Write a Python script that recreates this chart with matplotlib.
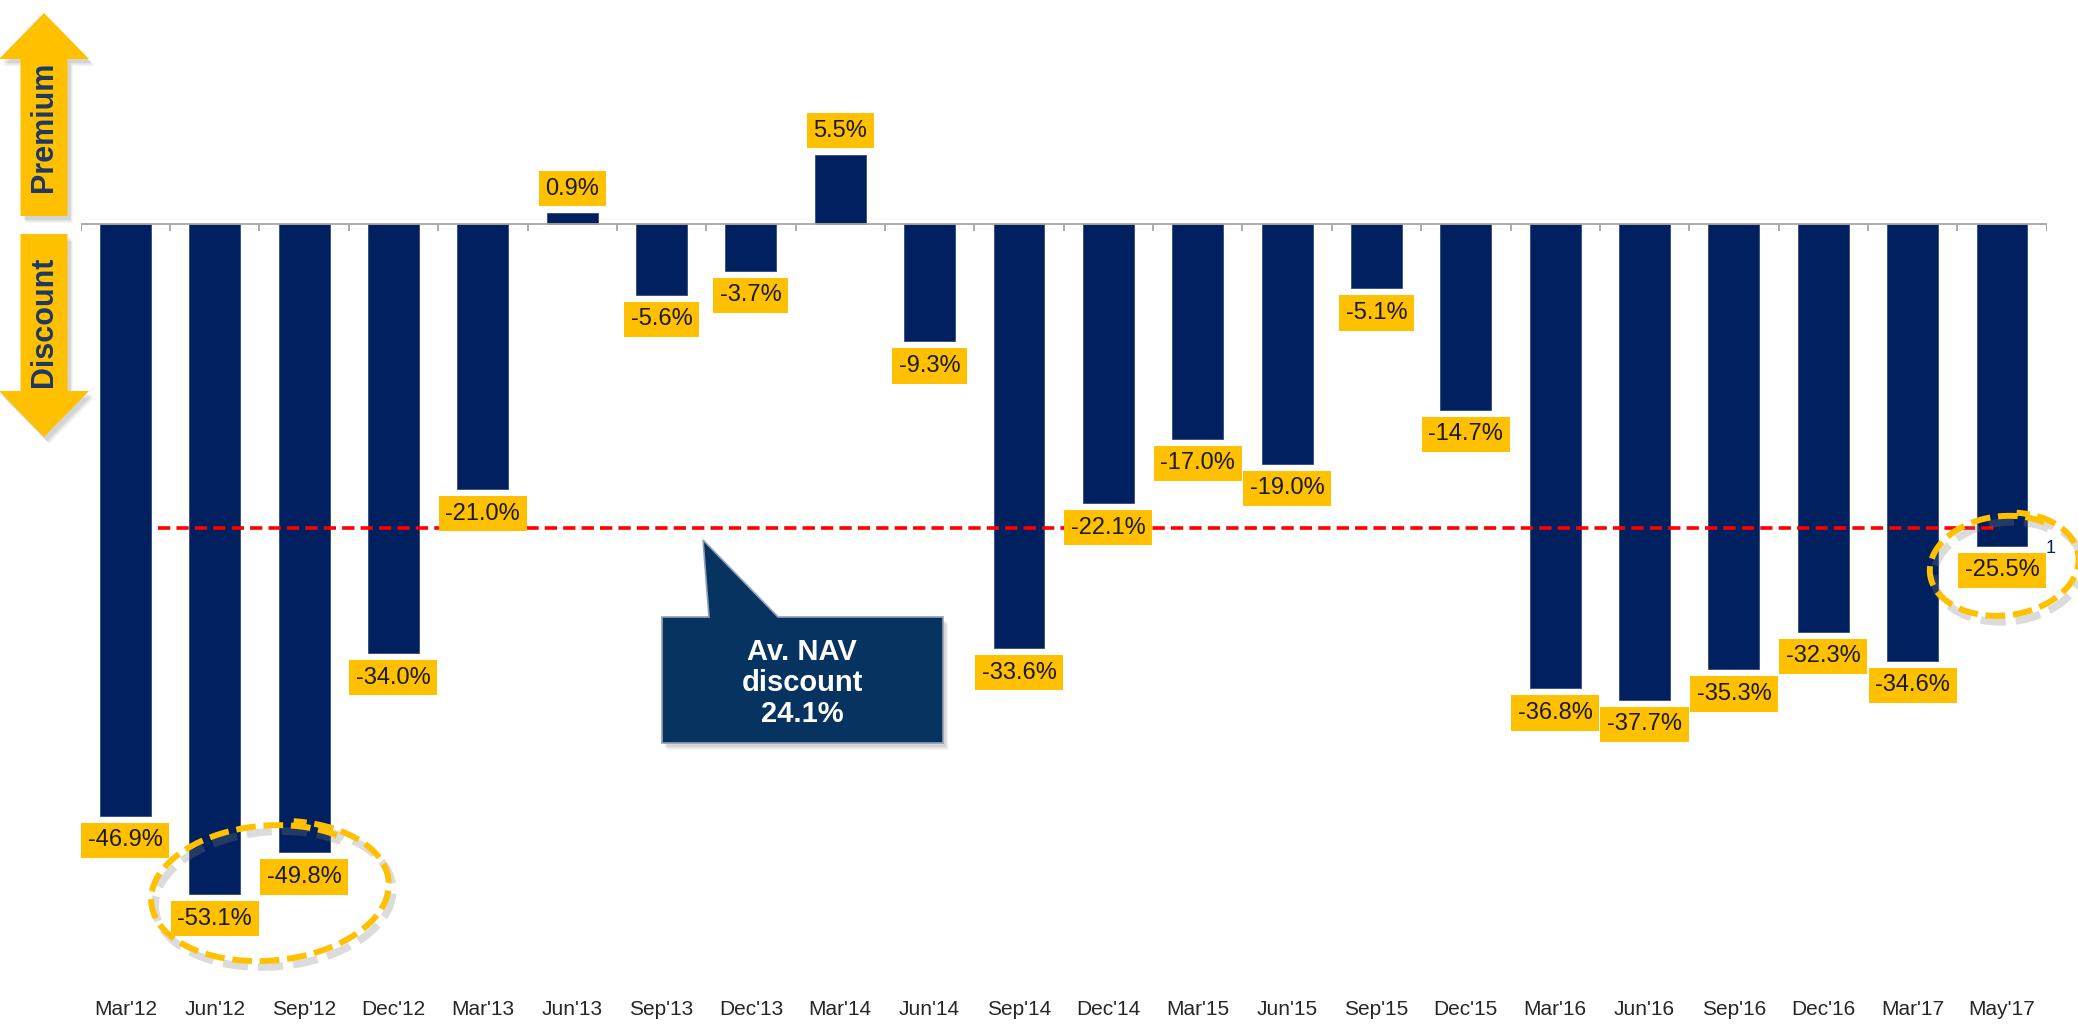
import numpy as np
import matplotlib
matplotlib.use("Agg")
import matplotlib.pyplot as plt
from matplotlib.patches import Polygon

plt.rcParams['font.family'] = ['Liberation Sans', 'DejaVu Sans']

quarters = ["Mar'12", "Jun'12", "Sep'12", "Dec'12", "Mar'13", "Jun'13", "Sep'13",
            "Dec'13", "Mar'14", "Jun'14", "Sep'14", "Dec'14", "Mar'15", "Jun'15",
            "Sep'15", "Dec'15", "Mar'16", "Jun'16", "Sep'16", "Dec'16", "Mar'17",
            "May'17"]
nav_premium = [-46.9, -53.1, -49.8, -34.0, -21.0, 0.9, -5.6, -3.7, 5.5, -9.3, -33.6,
               -22.1, -17.0, -19.0, -5.1, -14.7, -36.8, -37.7, -35.3, -32.3, -34.6,
               -25.5]
avg = np.mean(nav_premium)

NAVY = '#002060'
GOLD = '#FFC000'
W, H = 2078, 1025
PX = 12.62          # pixels per percentage point
ZERO_Y = 224        # pixel row of the zero line
AX_BOTTOM = 990

fig = plt.figure(figsize=(W / 100, H / 100), dpi=100)
ax = fig.add_axes([80.7 / W, (H - AX_BOTTOM) / H, 1966 / W, AX_BOTTOM / H])
ax.set_xlim(-0.5, len(quarters) - 0.5)
ax.set_ylim(ZERO_Y / PX - AX_BOTTOM / PX, ZERO_Y / PX)
for s in ax.spines.values():
    s.set_visible(False)
ax.set_yticks([])

x = np.arange(len(quarters))
ax.bar(x, nav_premium, width=0.57, color=NAVY, edgecolor='#34497a', linewidth=0.6, zorder=2)

# zero line with small category ticks
ax.axhline(0, color='#A6A6A6', lw=1.3, zorder=3)
ax.vlines(np.arange(len(quarters) + 1) - 0.5, -7 / PX, 0, color='#A6A6A6', lw=1.3, zorder=3)

ax.set_xticks(x)
ax.set_xticklabels(quarters, fontsize=15, color='#262626')
ax.tick_params(axis='x', length=0, pad=7)

# average line
ax.hlines(avg, 0.37, 20.98, color='#FF0000', lw=2.6, linestyles=(0, (3.4, 1.7)), zorder=4)

# value labels
for xi, v in zip(x, nav_premium):
    if v < 0:
        ax.annotate(f"{v:.1f}%", (xi, v), xytext=(0, -9.8), textcoords='offset points',
                    ha='center', va='top', fontsize=17, color='#1A1A1A', zorder=6,
                    bbox=dict(boxstyle='square,pad=0.28', fc=GOLD, ec='none'))
    else:
        ax.annotate(f"{v:.1f}%", (xi, v), xytext=(0, 9.2), textcoords='offset points',
                    ha='center', va='bottom', fontsize=17, color='#1A1A1A', zorder=6,
                    bbox=dict(boxstyle='square,pad=0.28', fc=GOLD, ec='none'))

ax.annotate('1', (len(quarters) - 1 + 0.54, nav_premium[-1] - 0.2), ha='center',
            va='center', fontsize=13, color=NAVY, annotation_clip=False)

# overlay in pixel units for decorations
ov = fig.add_axes([0, 0, 1, 1], facecolor='none')
ov.set_xlim(0, W)
ov.set_ylim(H, 0)
ov.axis('off')


def shape(pts, fc, ec='none', lw=0, shadow=(3, 4), z=5):
    pts = np.array(pts, dtype=float)
    for k, a in enumerate([0.10, 0.12, 0.14]):
        off = np.array(shadow) * (1 + 0.35 * (2 - k))
        ov.add_patch(Polygon(pts + off, closed=True, fc='#7f7f7f', ec='none',
                             alpha=a, zorder=z - 0.5))
    ov.add_patch(Polygon(pts, closed=True, fc=fc, ec=ec, lw=lw, zorder=z))


# premium / discount arrows
shape([(44, 13), (89, 59), (67.5, 59), (67.5, 216), (20.5, 216), (20.5, 59), (-1, 59)], GOLD)
shape([(20.5, 234), (67.5, 234), (67.5, 391), (89, 391), (44, 437), (-1, 391), (20.5, 391)], GOLD)
ov.text(44, 127, 'Premium', rotation=90, ha='center', va='center', fontsize=22,
        fontweight='bold', color='#1F3864', zorder=7)
ov.text(44, 322, 'Discount', rotation=90, ha='center', va='center', fontsize=22,
        fontweight='bold', color='#1F3864', zorder=7)

# callout
shape([(662, 617), (709, 617), (703, 540), (778, 617), (943, 617), (943, 743), (662, 743)],
      '#06335F', ec='#8EA0B8', lw=1.2, shadow=(3, 4))
ov.text(802, 683, f"Av. NAV\ndiscount\n{abs(avg):.1f}%", ha='center', va='center',
        fontsize=21, fontweight='bold', color='white', linespacing=1.15, zorder=7)


def loop(cx, cy, a, b, tilt, t0=50, extra=25, grow=0.07):
    t = np.radians(np.linspace(t0, t0 + 360 + extra, 400))
    f = 0.97 + grow * (t - t[0]) / (t[-1] - t[0])
    phi = np.radians(tilt)
    ex = a * f * np.cos(t)
    ey = b * f * np.sin(t)
    px = cx + ex * np.cos(phi) - ey * np.sin(phi)
    py = cy - (ex * np.sin(phi) + ey * np.cos(phi))
    ov.plot(px + 4, py + 6, color='#808080', alpha=0.28, lw=5.5,
            linestyle=(0, (3.3, 1.3)), zorder=8, solid_capstyle='butt')
    ov.plot(px, py, color=GOLD, lw=4.3, linestyle=(0, (3.3, 1.3)), zorder=9,
            solid_capstyle='butt')


loop(268, 892, 118, 68, 5)
loop(2003, 565, 74, 50, 7)

fig.savefig('out.png', dpi=100)
